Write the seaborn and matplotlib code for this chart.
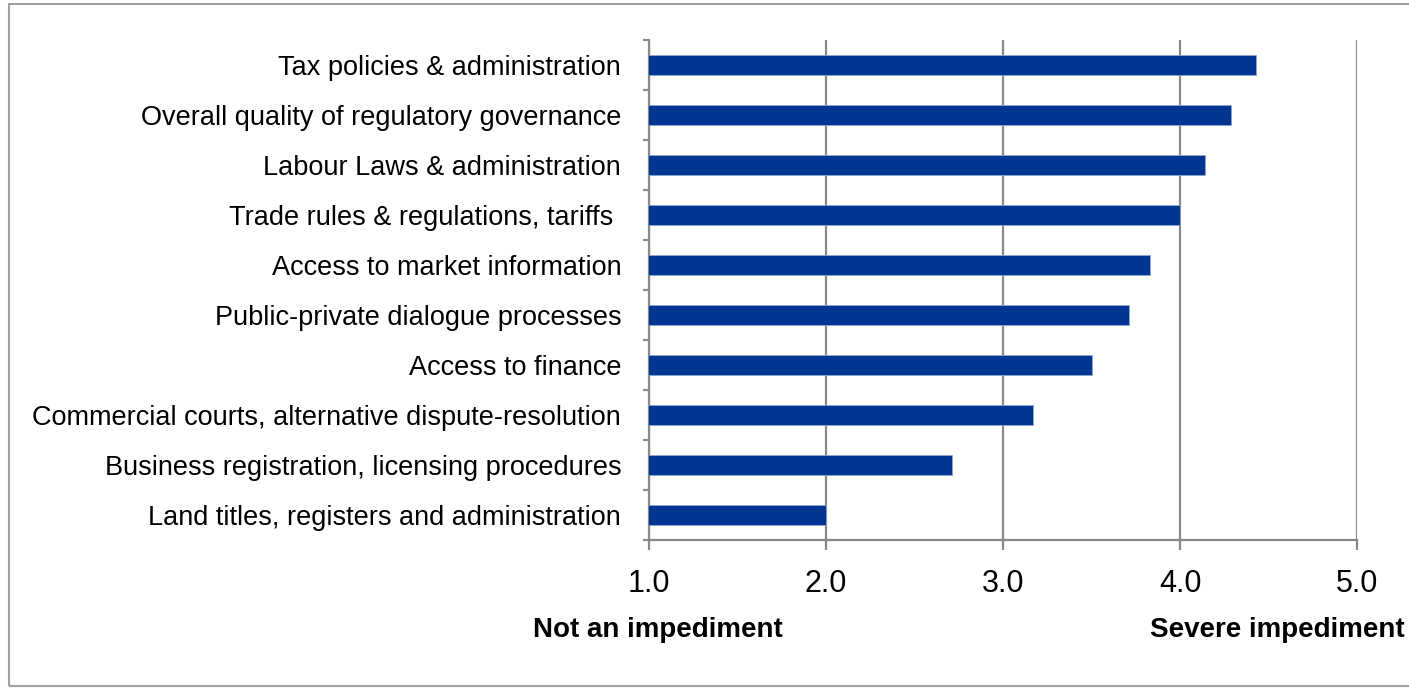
import matplotlib
matplotlib.use("Agg")
import matplotlib.pyplot as plt
import numpy as np
import pandas as pd
import seaborn as sns
from matplotlib.patches import Rectangle

categories = [
    "Tax policies & administration",
    "Overall quality of regulatory governance",
    "Labour Laws & administration",
    "Trade rules & regulations, tariffs ",
    "Access to market information",
    "Public-private dialogue processes",
    "Access to finance",
    "Commercial courts, alternative dispute-resolution",
    "Business registration, licensing procedures",
    "Land titles, registers and administration",
]
scores = [4.43, 4.29, 4.14, 4.00, 3.83, 3.71, 3.50, 3.17, 2.71, 2.00]
x_ticks = [1.0, 2.0, 3.0, 4.0, 5.0]
x_tick_labels = ["1.0", "2.0", "3.0", "4.0", "5.0"]
low_label = "Not an impediment"
high_label = "Severe impediment"


def main():
    sns.set_theme(style="white")
    plt.rcParams['font.family'] = ['Liberation Sans', 'DejaVu Sans']
    plt.rcParams['text.color'] = 'black'
    plt.rcParams['xtick.labelcolor'] = 'black'
    plt.rcParams['ytick.labelcolor'] = 'black'
    grey = "#898989"
    bar_color = "#003591"

    df = pd.DataFrame({"item": categories, "score": scores})

    fig = plt.figure(figsize=(14.09, 6.88), dpi=100)
    ax = fig.add_axes([649 / 1409, 1 - 540 / 688, 708 / 1409, 500 / 688])

    sns.barplot(data=df, y="item", x="score", orient="h", color=bar_color,
                width=0.39, saturation=1, ax=ax, zorder=3)
    for p in ax.patches:
        p.set_edgecolor("#8fa6d0")
        p.set_linewidth(0.6)

    ax.set_xlim(1, 5)
    ax.set_ylim(len(categories) - 0.5, -0.5)
    ax.set_xlabel("")
    ax.set_ylabel("")

    ax.set_xticks(x_ticks)
    ax.set_xticklabels(x_tick_labels, fontsize=22)
    ax.xaxis.grid(True, color=grey, linewidth=1.6, zorder=0)
    ax.set_axisbelow(True)

    ax.set_yticks(np.arange(len(categories)))
    ax.set_yticklabels(categories, fontsize=19.5)
    ax.set_yticks(np.arange(len(categories) + 1) - 0.5, minor=True)
    ax.tick_params(axis="y", which="major", length=0, pad=20)
    ax.tick_params(axis="y", which="minor", length=4, width=1.6,
                   color=grey, direction="out", left=True)
    ax.tick_params(axis="x", which="major", length=7, width=1.6,
                   color=grey, direction="out", bottom=True, pad=14)

    for side in ["top", "right"]:
        ax.spines[side].set_visible(False)
    for side in ["left", "bottom"]:
        ax.spines[side].set_color(grey)
        ax.spines[side].set_linewidth(1.6)

    fig.text(533 / 1409, 1 - 630 / 688, low_label, fontsize=20,
             fontweight="bold", ha="left", va="center")
    fig.text(1405 / 1409, 1 - 630 / 688, high_label, fontsize=20,
             fontweight="bold", ha="right", va="center")

    fig.add_artist(Rectangle((9 / 1409, 1 - 686 / 688), 1.0, 682 / 688,
                             transform=fig.transFigure, fill=False,
                             edgecolor="#a0a0a0", linewidth=1.5))

    fig.savefig("out.png", dpi=100)


if __name__ == "__main__":
    main()
